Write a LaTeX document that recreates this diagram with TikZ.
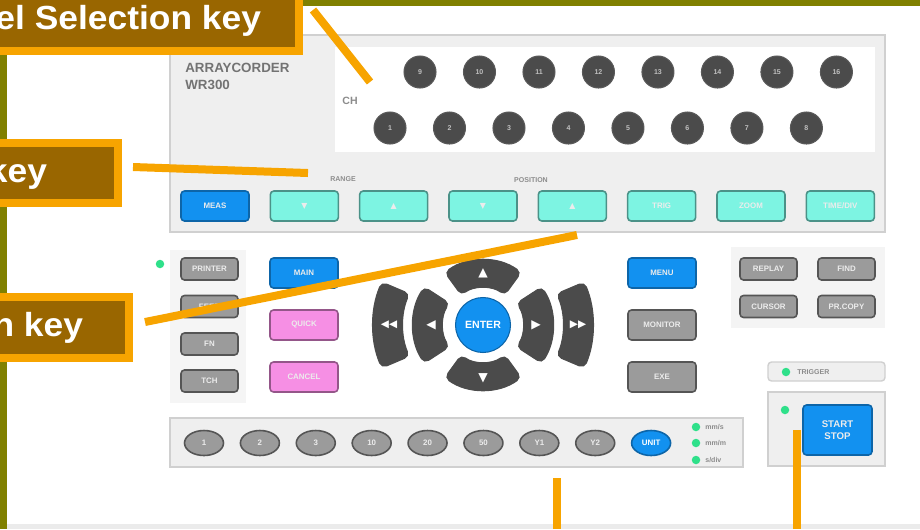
\documentclass[tikz,border=0pt]{standalone}
\usepackage{fontspec}
\setmainfont{Liberation Sans}
\newfontfamily\symfont{DejaVu Sans}
\newfontfamily\calloutfont[FakeStretch=1.06]{Liberation Sans}
\usetikzlibrary{positioning,shapes}

\definecolor{olivebar}{HTML}{808000}
\definecolor{labelbrown}{HTML}{996600}
\definecolor{leadercol}{HTML}{F7A400}
\definecolor{keyblue}{HTML}{1291F0}
\definecolor{keycyan}{HTML}{7DF4E2}
\definecolor{keypink}{HTML}{F68FE4}
\definecolor{keygray}{HTML}{9B9B9B}
\definecolor{keydark}{HTML}{4B4B4B}
\definecolor{panelgray}{HTML}{EFEFEF}
\definecolor{panelline}{HTML}{D0D0D0}
\definecolor{ledgreen}{HTML}{2FE08A}

\begin{document}
\begin{tikzpicture}[x=0.02cm,y=-0.02cm,node distance=1.19cm]
\tikzstyle{panel}=[fill=panelgray,draw=panelline,line width=0.8pt]
\tikzstyle{chkey}=[circle,fill=keydark,draw=black!65,line width=0.6pt,minimum size=0.64cm,inner sep=0pt,text=white!65!keydark,font=\bfseries\fontsize{4}{4}\selectfont]
\tikzstyle{key}=[rectangle,rounded corners=2pt,line width=0.9pt,minimum width=1.36cm,minimum height=0.6cm,inner sep=0pt,text=white!85!gray,font=\bfseries\fontsize{4.5}{5}\selectfont]
\tikzstyle{bluekey}=[key,fill=keyblue,draw=keyblue!70!black]
\tikzstyle{cyankey}=[key,fill=keycyan,draw=keycyan!60!black]
\tikzstyle{pinkkey}=[key,fill=keypink,draw=keypink!60!black]
\tikzstyle{graykey}=[key,fill=keygray,draw=keygray!55!black]
\tikzstyle{smallkey}=[graykey,minimum width=1.14cm,minimum height=0.44cm]
\tikzstyle{ovalkey}=[ellipse,fill=keygray,draw=keygray!55!black,line width=0.9pt,minimum width=0.78cm,minimum height=0.5cm,inner sep=0pt,text=white!85!gray,font=\bfseries\fontsize{4.5}{5}\selectfont]
\tikzstyle{led}=[circle,fill=ledgreen,minimum size=0.17cm,inner sep=0pt]
\tikzstyle{tag}=[text=black!45,font=\bfseries\fontsize{4}{4}\selectfont,inner sep=0pt]
\tikzstyle{padkey}=[fill=keydark,draw=black!70,line width=0.6pt,rounded corners=3pt]
\tikzstyle{callout}=[fill=labelbrown,draw=leadercol,line width=0.16cm,text=white,font=\calloutfont\bfseries\fontsize{19}{20}\selectfont,inner ysep=0pt]
\tikzstyle{leader}=[draw=leadercol,line width=0.16cm]

\useasboundingbox (0,0) rectangle (920,529);
\clip (0,0) rectangle (920,529);

% frame of the slide
\fill[olivebar] (0,0) rectangle (7,529);
\fill[olivebar] (300,0) rectangle (920,6);
\fill[black!8] (7,524) rectangle (920,529);

% top panel with channel keys
\draw[panel] (170,35) rectangle (885,232);
\fill[white] (335,47) rectangle (875,152);
\node[anchor=west,text=black!55,font=\bfseries\fontsize{7.6}{8}\selectfont,inner sep=0pt] (model) at (185,68) {ARRAYCORDER};
\node[anchor=west,text=black!55,font=\bfseries\fontsize{7.6}{8}\selectfont,inner sep=0pt] (modelno) at (185,85) {WR300};
\node[tag,font=\bfseries\fontsize{6}{6}\selectfont] (ch) at (350,101) {CH};

\node [chkey] (c9) at (420,72) {9};
\node [chkey,right of=c9] (c10) {10};
\node [chkey,right of=c10] (c11) {11};
\node [chkey,right of=c11] (c12) {12};
\node [chkey,right of=c12] (c13) {13};
\node [chkey,right of=c13] (c14) {14};
\node [chkey,right of=c14] (c15) {15};
\node [chkey,right of=c15] (c16) {16};

\node [chkey] (c1) at (390,128) {1};
\node [chkey,right of=c1] (c2) {2};
\node [chkey,right of=c2] (c3) {3};
\node [chkey,right of=c3] (c4) {4};
\node [chkey,right of=c4] (c5) {5};
\node [chkey,right of=c5] (c6) {6};
\node [chkey,right of=c6] (c7) {7};
\node [chkey,right of=c7] (c8) {8};

\node[tag] (range) at (343,179) {RANGE};
\node[tag] (position) at (531,180) {POSITION};

\begin{scope}[node distance=1.787cm]
\node [bluekey] (meas) at (215,206) {MEAS};
\node [cyankey,right of=meas] (rdown) {\symfont ▼};
\node [cyankey,right of=rdown] (rup) {\symfont ▲};
\node [cyankey,right of=rup] (pdown) {\symfont ▼};
\node [cyankey,right of=pdown] (pup) {\symfont ▲};
\node [cyankey,right of=pup] (trig) {TRIG};
\node [cyankey,right of=trig] (zoom) {ZOOM};
\node [cyankey,right of=zoom] (timediv) {TIME/DIV};
\end{scope}

% left keys
\fill[panelgray!60] (170,250) rectangle (246,403);
\node [led] (ledprint) at (160,264) {};
\node [smallkey] (printer) at (209.5,269) {PRINTER};
\node [smallkey,below of=printer,node distance=0.75cm] (feed) {FEED};
\node [smallkey,below of=feed,node distance=0.75cm] (fn) {FN};
\node [smallkey,below of=fn,node distance=0.74cm] (tch) {TCH};

\node [bluekey] (main) at (304,273) {MAIN};
\node [pinkkey,below of=main,node distance=1.04cm] (quick) {QUICK};
\node [pinkkey,below of=quick,node distance=1.04cm] (cancel) {CANCEL};

% cursor pad
\node [circle,fill=keyblue,draw=keyblue!70!black,line width=0.6pt,minimum size=1.1cm,inner sep=0pt,text=white,font=\bfseries\fontsize{6}{6}\selectfont] (enter) at (483,325) {ENTER};
\begin{scope}[shift={(enter.center)}]
\draw[padkey] (54:37) arc[start angle=54,end angle=126,radius=37] -- (126:65) arc[start angle=126,end angle=54,radius=65] -- cycle;
\draw[padkey] (234:37) arc[start angle=234,end angle=306,radius=37] -- (306:65) arc[start angle=306,end angle=234,radius=65] -- cycle;
\draw[padkey] (-33:40) arc[start angle=-33,end angle=33,radius=40] -- (33:70) arc[start angle=33,end angle=-33,radius=70] -- cycle;
\draw[padkey] (147:40) arc[start angle=147,end angle=213,radius=40] -- (213:70) arc[start angle=213,end angle=147,radius=70] -- cycle;
\draw[padkey] (-23:80) arc[start angle=-23,end angle=23,radius=80] -- (23:110) arc[start angle=23,end angle=-23,radius=110] -- cycle;
\draw[padkey] (157:80) arc[start angle=157,end angle=203,radius=80] -- (203:110) arc[start angle=203,end angle=157,radius=110] -- cycle;
\end{scope}
\node[text=white,font=\symfont\fontsize{7}{7}\selectfont] (upsym) at (483,273) {▲};
\node[text=white,font=\symfont\fontsize{7}{7}\selectfont] (downsym) at (483,378) {▼};
\node[text=white,font=\symfont\fontsize{7}{7}\selectfont] (leftsym) at (431,325) {◀};
\node[text=white,font=\symfont\fontsize{7}{7}\selectfont] (rightsym) at (536,325) {▶};
\node[text=white,font=\symfont\fontsize{6}{6}\selectfont,inner sep=0pt] (ffleft) at (389,325) {◀◀};
\node[text=white,font=\symfont\fontsize{6}{6}\selectfont,inner sep=0pt] (ffright) at (578,325) {▶▶};

% right keys
\node [bluekey] (menu) at (662,273) {MENU};
\node [graykey,below of=menu,node distance=1.04cm] (monitor) {MONITOR};
\node [graykey,below of=monitor,node distance=1.04cm] (exe) {EXE};

\fill[panelgray!70] (731,247) rectangle (885,328);
\node [smallkey] (replay) at (768.5,269) {REPLAY};
\node [smallkey,right of=replay,node distance=1.56cm] (find) {FIND};
\node [smallkey,below of=replay,node distance=0.75cm] (cursor) {CURSOR};
\node [smallkey,right of=cursor,node distance=1.56cm] (prcopy) {PR.COPY};

% trigger and start
\draw[panel,rounded corners=2pt] (768,362) rectangle (885,381);
\node [led] (ledtrig) at (786,372) {};
\node [tag,anchor=west] (trigtxt) at (797,372) {TRIGGER};
\draw[panel] (768,392) rectangle (885,466);
\node [led] (ledstart) at (785,410) {};
\node [bluekey,minimum width=1.38cm,minimum height=1.0cm,align=center,font=\bfseries\fontsize{5.5}{7}\selectfont] (start) at (837.5,430) {START\\STOP};

% bottom keys
\draw[panel] (170,418) rectangle (743,467);
\begin{scope}[node distance=1.118cm]
\node [ovalkey] (k1) at (204,443) {1};
\node [ovalkey,right of=k1] (k2) {2};
\node [ovalkey,right of=k2] (k3) {3};
\node [ovalkey,right of=k3] (k10) {10};
\node [ovalkey,right of=k10] (k20) {20};
\node [ovalkey,right of=k20] (k50) {50};
\node [ovalkey,right of=k50] (ky1) {Y1};
\node [ovalkey,right of=ky1] (ky2) {Y2};
\node [ovalkey,right of=ky2,fill=keyblue,draw=keyblue!70!black,text=white] (unit) {UNIT};
\end{scope}
\node [led] (ledmms) at (696,427) {};
\node [led] (ledmmm) at (696,443) {};
\node [led] (ledsdiv) at (696,460) {};
\node [tag,anchor=west] (mms) at (705,427) {mm/s};
\node [tag,anchor=west] (mmm) at (705,443) {mm/m};
\node [tag,anchor=west] (sdiv) at (705,460) {s/div};

% leader lines
\coordinate (chfrom) at (313,10);
\coordinate (chto) at (370,82);
\coordinate (rngfrom) at (133,167);
\coordinate (rngto) at (308,173);
\coordinate (posfrom) at (145,322);
\coordinate (posto) at (577,235);
\coordinate (botfrom) at (557,529);
\coordinate (botto) at (557,478);
\coordinate (stfrom) at (797,529);
\coordinate (stto) at (797,430);
\draw[leader] (chfrom) -- (chto);
\draw[leader] (rngfrom) -- (rngto);
\draw[leader] (posfrom) -- (posto);
\draw[leader] (botfrom) -- (botto);
\draw[leader] (stfrom) -- (stto);

% callouts
\node[callout,anchor=south east,text height=0.8cm,text depth=0.44cm,inner xsep=0.76cm] (chlabel) at (303,55) {Channel Selection key};
\node[callout,anchor=east,text height=0.78cm,text depth=0.42cm,inner xsep=1.42cm] (rnglabel) at (122,173) {Range key};
\node[callout,anchor=east,text height=0.79cm,text depth=0.43cm,inner xsep=0.92cm] (poslabel) at (133,327.5) {Position key};

\end{tikzpicture}
\end{document}
